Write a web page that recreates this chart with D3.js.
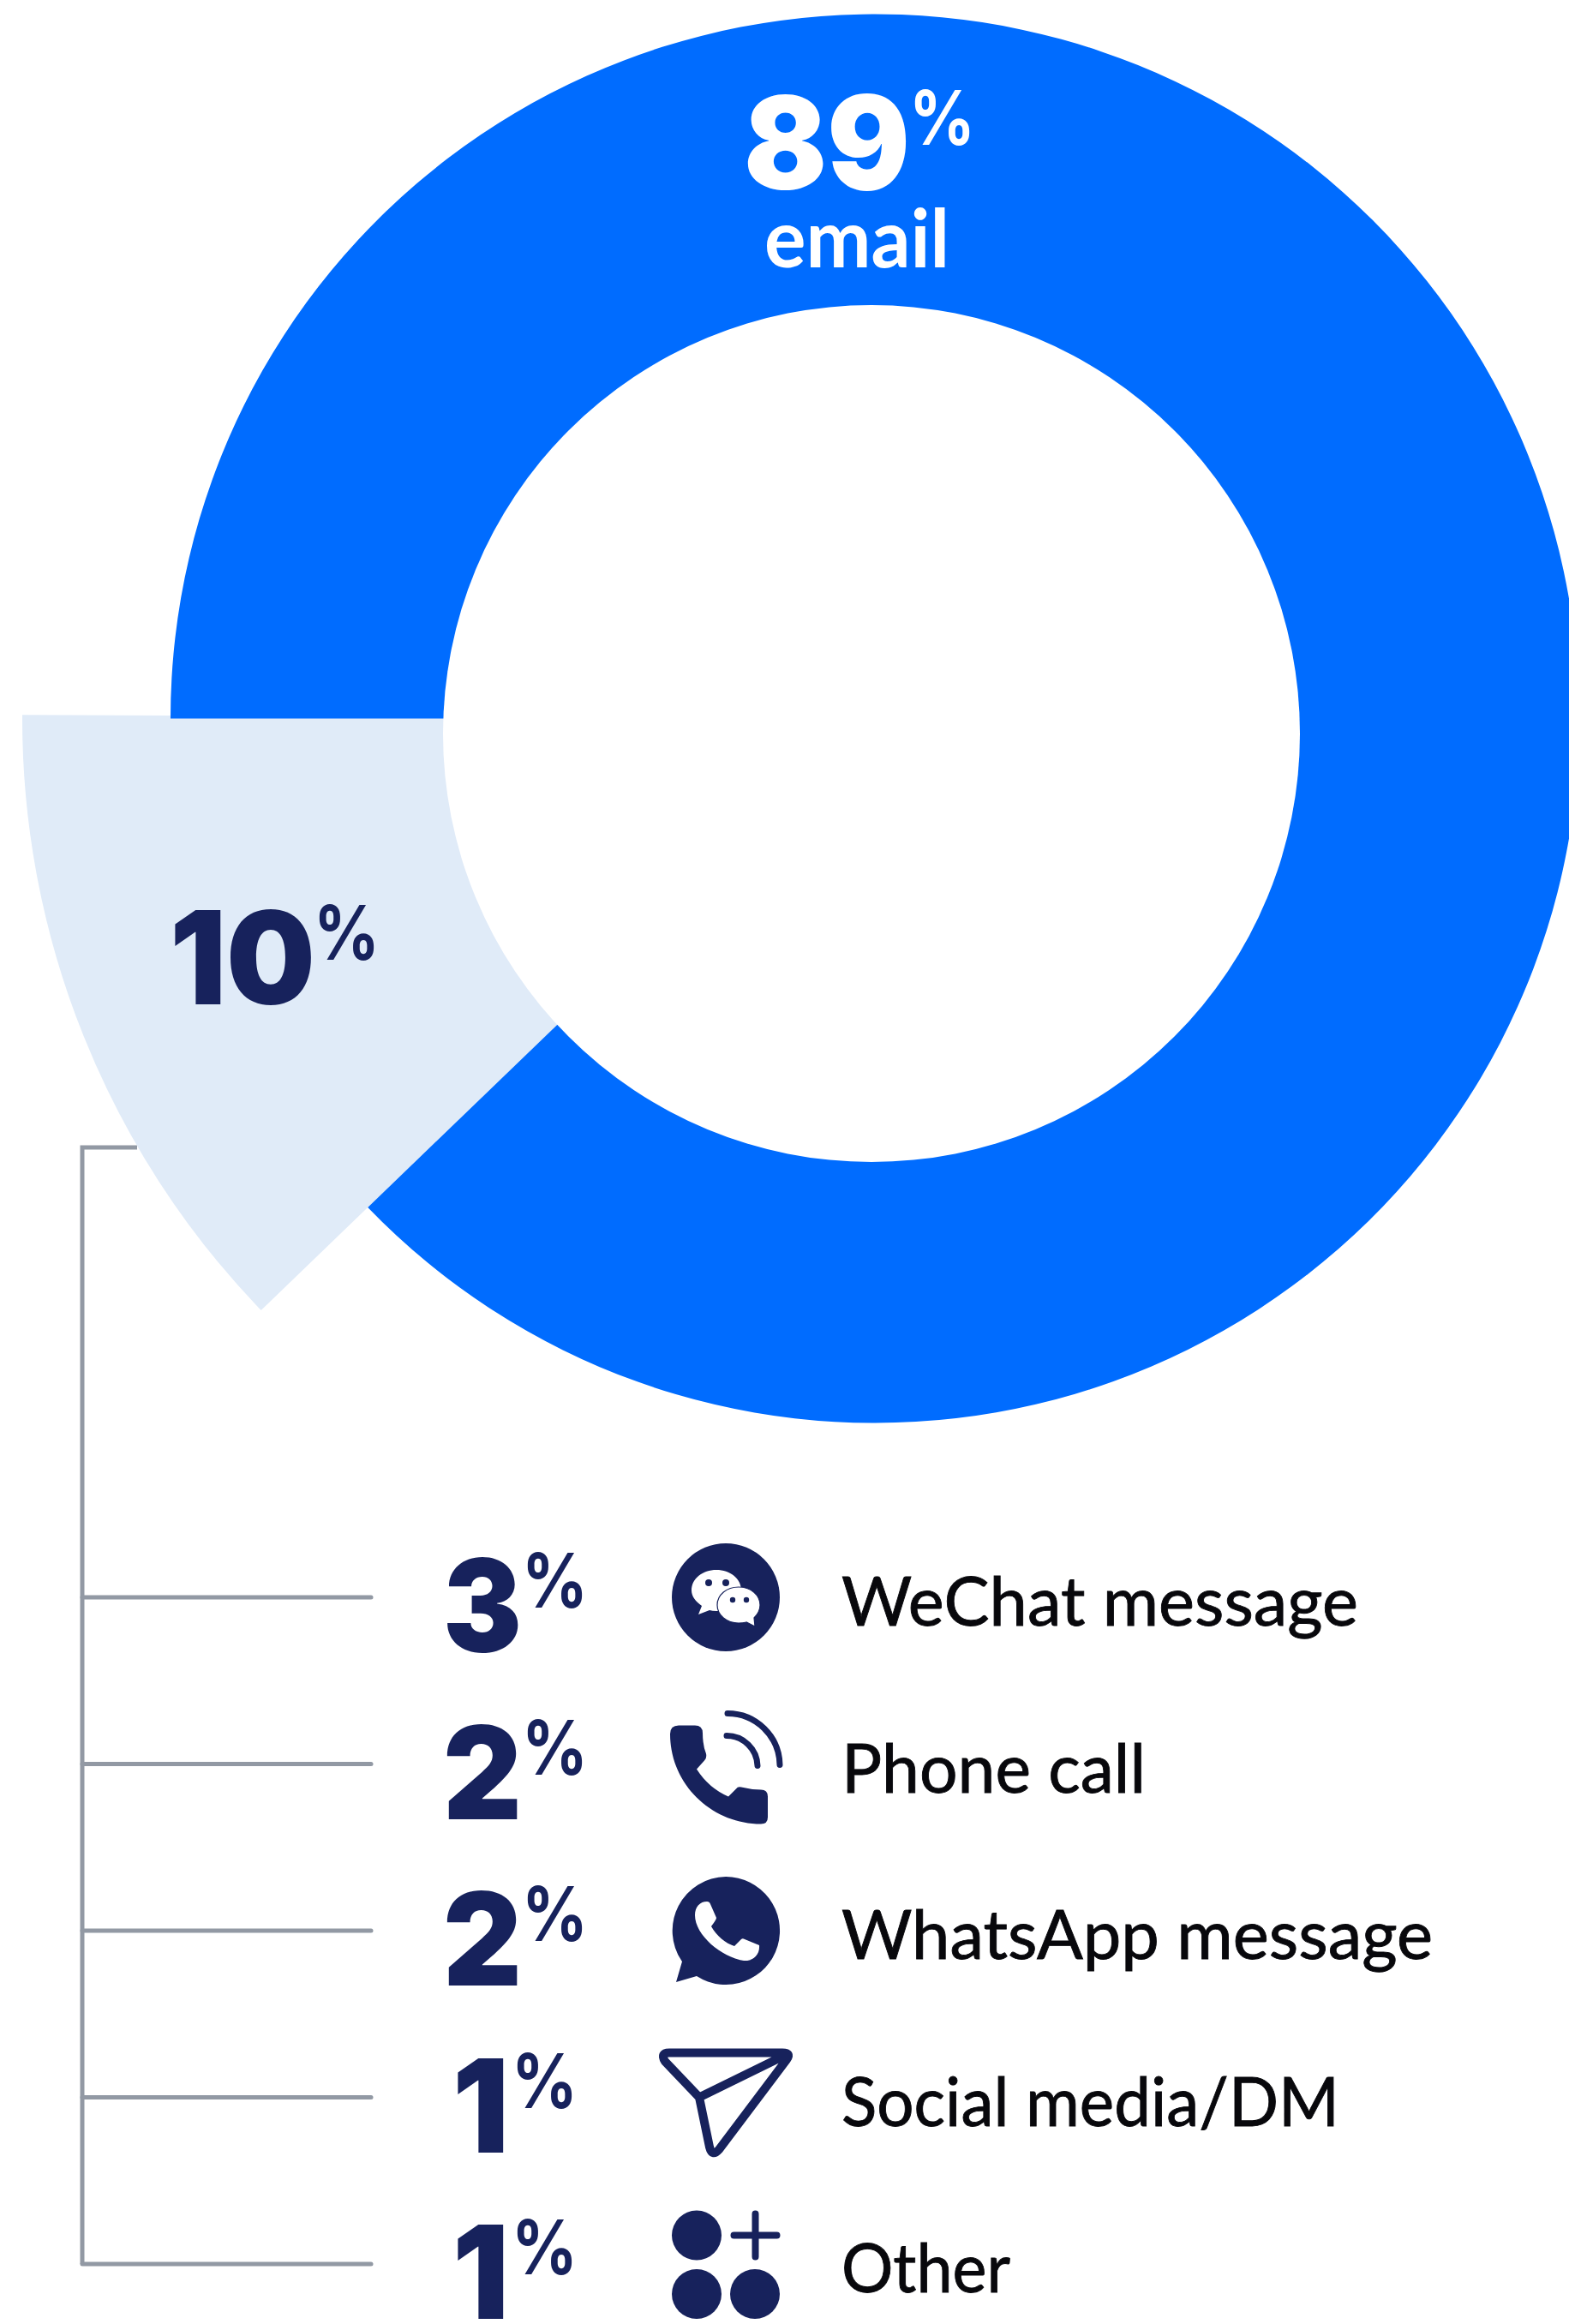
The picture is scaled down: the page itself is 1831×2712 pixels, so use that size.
<!DOCTYPE html>
<html>
<head>
<meta charset="utf-8">
<script src="https://d3js.org/d3.v7.min.js"></script>
<style>
html,body{margin:0;padding:0;background:#fff;}
svg{display:block;}
</style>
</head>
<body>
<svg id="chart" width="1831" height="2712"></svg>
<script>
// Share of messages by channel, in percent
const mainChannel = "email";
const mainShare = 89;
const otherShare = 10;
const channels = ["WeChat message", "Phone call", "WhatsApp message", "Social media/DM", "Other"];
const channelShares = [3, 2, 2, 1, 1];
const channelIcons = ["wechat", "phone", "whatsapp", "plane", "more"];
// Set width of each channel label, in px
const labelWidths = [603, 355, 690, 581, 197];

const BLUE = "#006CFF", PALE = "#E0EBF8", NAVY = "#17225C", GREY = "#9299A4", INK = "#08080C";
const NUM_FONT = "Inter, Lato, sans-serif";
const LABEL_FONT = "Lato, 'Open Sans', sans-serif";
const rad = Math.PI / 180;

const svg = d3.select("#chart");

// Ring geometry: the "other" wedge is exploded outwards and widened so the breakdown can hang off it
const cx = 1021, cy = 838.5;
const holeX = 1017, holeY = 856, holeR = 500;
const ringR = 822, wedgeR = 995;
const wedgeEnd = 270.25 * rad;
const wedgeSweep = d3.scaleLinear().domain([0, otherShare]).range([0, 44.2 * rad]);
const wedgeStart = wedgeEnd - wedgeSweep(otherShare);
const ringStart = 270 * rad;
const ringSweep = d3.scaleLinear().domain([0, mainShare]).range([0, 2 * Math.PI - (ringStart - wedgeStart)]);

// Leader lines go underneath the wedge
const rowY = d3.scalePoint().domain(channels).range([1864, 2642]);
const leaderX = 96, leaderEnd = 433, leaderTop = 1339;
const leaders = svg.append("g").attr("fill", "none").attr("stroke", GREY).attr("stroke-width", 5);
leaders.append("path").attr("stroke-linejoin", "miter")
  .attr("d", d3.line()([[160, leaderTop], [leaderX, leaderTop], [leaderX, rowY(channels[channels.length - 1])]]));
leaders.selectAll("line").data(channels).join("line")
  .attr("stroke-linecap", "round")
  .attr("x1", leaderX).attr("x2", leaderEnd).attr("y1", d => rowY(d)).attr("y2", d => rowY(d));

const chartG = svg.append("g").attr("transform", `translate(${cx},${cy})`);
const arc = d3.arc().innerRadius(0);
chartG.append("path").attr("fill", PALE)
  .attr("d", arc({outerRadius: wedgeR, startAngle: wedgeStart, endAngle: wedgeEnd}));
chartG.append("path").attr("fill", BLUE)
  .attr("d", arc({outerRadius: ringR, startAngle: ringStart, endAngle: ringStart + ringSweep(mainShare)}));
svg.append("circle").attr("cx", holeX).attr("cy", holeY).attr("r", holeR).attr("fill", "#fff");

// Big number followed by a raised percent sign
function bigPercent(parent, value, x, baseline, color, digitWidth, pctX) {
  parent.append("text").attr("x", x).attr("y", baseline)
    .attr("font-family", NUM_FONT).attr("font-weight", 900).attr("font-size", 151)
    .attr("fill", color).attr("textLength", digitWidth).attr("lengthAdjust", "spacingAndGlyphs")
    .text(value);
  parent.append("text").attr("x", pctX - 4).attr("y", baseline - 52)
    .attr("font-family", NUM_FONT).attr("font-weight", 700).attr("font-size", 88)
    .attr("fill", color).attr("textLength", 77).attr("lengthAdjust", "spacingAndGlyphs")
    .text("%");
}

bigPercent(svg, mainShare, 868, 221, "#fff", 194, 1065);
svg.append("text").attr("x", 892).attr("y", 312)
  .attr("font-family", LABEL_FONT).attr("font-size", 93).attr("font-weight", 700)
  .attr("textLength", 216).attr("lengthAdjust", "spacingAndGlyphs")
  .attr("fill", "#fff").text(mainChannel);
bigPercent(svg, otherShare, 198, 1172, NAVY, 170, 370);

// Channel icons, drawn around the row centre
const drawIcon = {
  wechat(g) {
    g.append("circle").attr("r", 63).attr("fill", NAVY);
    g.append("path").attr("fill", "#fff").attr("d", "M-11,-32C5,-32 18,-22 18,-8C18,6 5,16 -11,16Q-16,16 -19,15L-32,20L-28,10C-35,5 -40,-1 -40,-8C-40,-22 -27,-32 -11,-32Z");
    g.append("path").attr("fill", "#fff").attr("stroke", NAVY).attr("stroke-width", 1.2).attr("d", "M15,-12C29,-12 40,-3 40,9C40,15 37,20 33,24L34,34L24,29Q20,30 15,30C1,30 -10,21 -10,9C-10,-3 1,-12 15,-12Z");
    g.selectAll(".eye").data([[-20, -17, 4], [0, -17, 4], [8, 3, 3.2], [24, 3, 3.2]]).join("circle")
      .attr("cx", d => d[0]).attr("cy", d => d[1]).attr("r", d => d[2]).attr("fill", NAVY);
  },
  phone(g) {
    g.append("path").attr("fill", NAVY).attr("d", "M-65,-35Q-65,-45 -55,-45L-36,-45Q-27,-45 -27,-36Q-27,-22 -23,-12Q-22,-7 -25,-4L-34,6Q-20,28 3,38L12,29Q14,26 18,27Q30,30 41,30Q49,30 49,38L49,62Q49,70 41,70C-16,70 -65,24 -65,-35Z");
    g.append("path").attr("fill", "none").attr("stroke", NAVY).attr("stroke-width", 7).attr("stroke-linecap", "round")
      .attr("d", "M2,-59A61,61 0 0 1 63,1M1,-33A36,36 0 0 1 37,2");
  },
  whatsapp(g) {
    g.append("path").attr("fill", NAVY).attr("d", "M0,-63A63,63 0 1 1 -34,53L-58,60L-51,36A63,63 0 0 1 0,-63Z");
    g.append("path").attr("fill", "#fff").attr("d", "M-36,-18C-36,-28 -30,-34 -22,-34Q-19,-34 -18,-31L-11,-15Q-11,-13 -17,-5C-11,6 0,15 10,18L17,11Q19,8 22,10L39,17C40,28 32,36 21,35C-5,31 -36,5 -36,-18Z");
  },
  plane(g) {
    g.append("path").attr("fill", "none").attr("stroke", NAVY).attr("stroke-width", 10).attr("stroke-linejoin", "round")
      .attr("d", "M-66,-52L66,-52Q77,-52 71,-44L-8,61Q-16,70 -19,58L-31,0L-71,-42Q-77,-52 -66,-52ZM-31,0L71,-50");
  },
  more(g) {
    g.selectAll("circle").data([[-34, -33.5], [-34, 35], [34, 35]]).join("circle")
      .attr("cx", d => d[0]).attr("cy", d => d[1]).attr("r", 29).attr("fill", NAVY);
    g.append("path").attr("fill", "none").attr("stroke", NAVY).attr("stroke-width", 8).attr("stroke-linecap", "round")
      .attr("d", "M9.5,-33.5L59.5,-33.5M34.5,-58.5L34.5,-8.5");
  }
};

channels.forEach((name, i) => {
  const y = rowY(name);
  const v = channelShares[i];
  const narrow = v === 1;
  bigPercent(svg, v, narrow ? 528 : 517, y + 64, NAVY, narrow ? 66 : 92, narrow ? 601 : 613);
  drawIcon[channelIcons[i]](svg.append("g").attr("transform", `translate(847,${y})`));
  svg.append("text").attr("x", 982).attr("y", y + 33)
    .attr("font-family", LABEL_FONT).attr("font-size", 80).attr("fill", INK)
    .attr("stroke", INK).attr("stroke-width", 0.9)
    .attr("textLength", labelWidths[i]).attr("lengthAdjust", "spacingAndGlyphs")
    .text(name);
});
</script>
</body>
</html>
